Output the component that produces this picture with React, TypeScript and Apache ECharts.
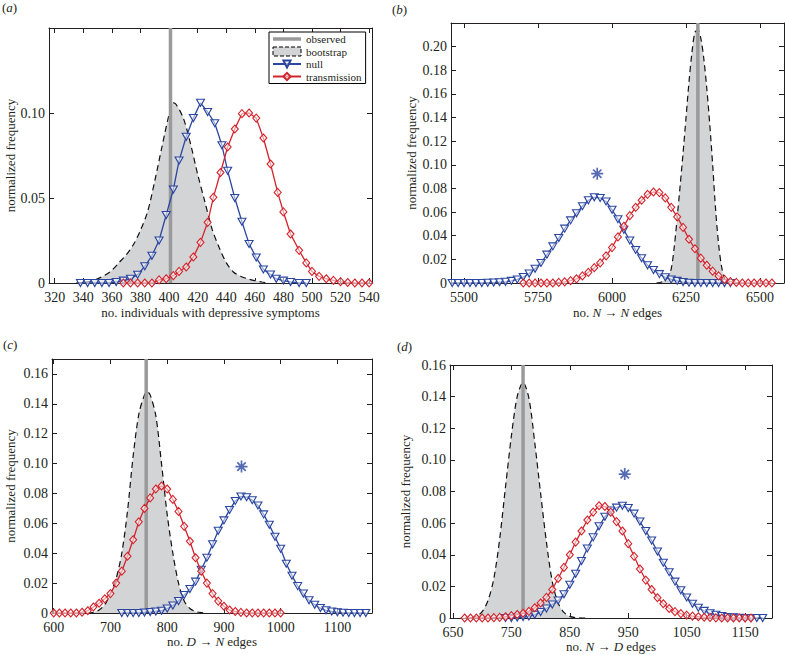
import React, { useEffect, useRef } from 'react';
import * as echarts from 'echarts';

const FONT = '"Liberation Serif", "Times New Roman", Times, serif';
const BLUE = '#2b46a0';
const RED = '#d3232c';
const GREY_FILL = '#d3d4d6';
const OBS = '#9a9a9a';
const INK = '#231f20';

// ---------- panel (a) ----------
const aTicksX = [320, 340, 360, 380, 400, 420, 440, 460, 480, 500, 520, 540];
const aTicksY = [0, 0.05, 0.1];
const aObserved = 401;
const aBootX = [335, 340, 345, 350, 355, 360, 365, 370, 375, 380, 385, 390, 395, 400, 403, 405, 410, 415, 420, 425, 430, 435, 440, 445, 450, 455, 460, 465, 470];
const aBootY = [0, 0.0003, 0.001, 0.0025, 0.0045, 0.0075, 0.012, 0.0165, 0.0225, 0.031, 0.042, 0.06, 0.08, 0.099, 0.106, 0.105, 0.097, 0.082, 0.064, 0.048, 0.032, 0.021, 0.012, 0.0065, 0.004, 0.0025, 0.0014, 0.0006, 0];
const aNullX = [338, 343, 348, 353, 358, 363, 368, 373, 378, 383, 388, 393, 398, 403, 407, 412, 417, 422, 427, 432, 437, 441, 446, 451, 456, 461, 466, 471, 475, 480, 485, 491, 496];
const aNullY = [0, 0, 0, 0, 0, 0.0006, 0.0014, 0.0025, 0.0049, 0.0098, 0.016, 0.025, 0.04, 0.055, 0.072, 0.086, 0.097, 0.106, 0.1006, 0.094, 0.081, 0.066, 0.05, 0.036, 0.023, 0.015, 0.008, 0.005, 0.0025, 0.0014, 0.0006, 0, 0];
const aTransX = [368, 373, 378, 383, 388, 393, 398, 403, 407, 412, 417, 422, 427, 431, 436, 441, 446, 451, 456, 461, 466, 471, 476, 480, 485, 491, 496, 500, 505, 510, 515, 520, 525, 530, 535, 540];
const aTransY = [0, 0, 0, 0, 0, 0.0018, 0.0025, 0.0043, 0.0068, 0.0094, 0.0153, 0.0239, 0.0357, 0.0504, 0.065, 0.08, 0.0906, 0.0996, 0.1, 0.097, 0.0853, 0.07, 0.0533, 0.0418, 0.0288, 0.0192, 0.0118, 0.0068, 0.0039, 0.0025, 0.0015, 0.0008, 0.0003, 0, 0, 0];

// ---------- panel (b) ----------
const bTicksX = [5500, 5750, 6000, 6250, 6500];
const bTicksY = [0, 0.02, 0.04, 0.06, 0.08, 0.1, 0.12, 0.14, 0.16, 0.18, 0.2];
const bObserved = 6290;
const bStar = [5950, 0.0925];
const bBootX = [6150, 6170, 6190, 6200, 6210, 6220, 6230, 6240, 6250, 6260, 6270, 6280, 6290, 6300, 6310, 6320, 6330, 6340, 6350, 6360, 6370, 6380, 6390, 6400];
const bBootY = [0, 0.001, 0.006, 0.012, 0.03, 0.055, 0.082, 0.11, 0.14, 0.17, 0.195, 0.212, 0.214, 0.207, 0.19, 0.165, 0.135, 0.1, 0.062, 0.033, 0.014, 0.004, 0.001, 0];
const bNullX = [5460, 5480, 5500, 5520, 5540, 5560, 5580, 5600, 5620, 5640, 5660, 5680, 5700, 5720, 5740, 5760, 5780, 5800, 5820, 5840, 5860, 5880, 5900, 5920, 5940, 5960, 5980, 6000, 6020, 6040, 6060, 6080, 6100, 6120, 6140, 6160, 6180, 6200, 6220, 6240, 6260, 6280, 6300, 6320, 6340, 6360, 6380, 6400];
const bNullY = [0, 0, 0, 0, 0, 0, 0.0002, 0.0004, 0.0007, 0.001, 0.0018, 0.003, 0.005, 0.008, 0.012, 0.017, 0.024, 0.031, 0.038, 0.046, 0.053, 0.059, 0.065, 0.07, 0.0725, 0.072, 0.069, 0.062, 0.054, 0.045, 0.036, 0.028, 0.021, 0.015, 0.011, 0.0075, 0.0048, 0.003, 0.0018, 0.0008, 0.0003, 0, 0, 0, 0, 0, 0, 0];
const bTransX = [5700, 5720, 5740, 5760, 5780, 5800, 5820, 5840, 5860, 5880, 5900, 5920, 5940, 5960, 5980, 6000, 6020, 6040, 6060, 6080, 6100, 6120, 6140, 6160, 6180, 6200, 6220, 6240, 6260, 6280, 6300, 6320, 6340, 6360, 6380, 6400, 6420, 6440, 6460, 6480, 6500, 6520, 6540];
const bTransY = [0, 0, 0, 0, 0, 0, 0.0005, 0.001, 0.002, 0.0035, 0.006, 0.009, 0.013, 0.017, 0.023, 0.03, 0.039, 0.048, 0.057, 0.064, 0.07, 0.075, 0.077, 0.0765, 0.072, 0.064, 0.056, 0.047, 0.037, 0.029, 0.021, 0.015, 0.01, 0.006, 0.003, 0.0012, 0.0005, 0, 0, 0, 0, 0, 0];

// ---------- panel (c) ----------
const cTicksX = [600, 700, 800, 900, 1000, 1100];
const cTicksY = [0, 0.02, 0.04, 0.06, 0.08, 0.1, 0.12, 0.14, 0.16];
const cObserved = 763;
const cStar = [931, 0.098];
const cBootX = [660, 670, 680, 690, 700, 710, 720, 730, 740, 750, 760, 765, 770, 780, 790, 800, 810, 820, 830, 840, 850, 860, 870];
const cBootY = [0, 0.0005, 0.002, 0.0055, 0.013, 0.023, 0.04, 0.068, 0.105, 0.133, 0.146, 0.148, 0.146, 0.132, 0.1, 0.066, 0.04, 0.02, 0.008, 0.003, 0.001, 0.0002, 0];
const cNullX = [720, 730, 740, 750, 760, 770, 780, 790, 800, 810, 820, 830, 840, 850, 860, 870, 880, 890, 900, 910, 920, 930, 940, 950, 960, 970, 980, 990, 1000, 1010, 1020, 1030, 1040, 1050, 1060, 1070, 1080, 1090, 1100, 1110, 1120, 1130, 1140, 1150];
const cNullY = [0, 0, 0, 0, 0.0003, 0.0006, 0.001, 0.0015, 0.003, 0.005, 0.008, 0.012, 0.016, 0.021, 0.029, 0.037, 0.046, 0.055, 0.062, 0.069, 0.075, 0.078, 0.0775, 0.0755, 0.072, 0.066, 0.059, 0.051, 0.043, 0.033, 0.025, 0.018, 0.013, 0.0085, 0.0055, 0.0033, 0.0018, 0.001, 0.0005, 0.0002, 0, 0, 0, 0];
const cTransX = [600, 610, 620, 630, 640, 650, 660, 670, 680, 690, 700, 710, 720, 730, 740, 750, 760, 770, 780, 790, 800, 810, 820, 830, 840, 850, 860, 870, 880, 890, 900, 910, 920, 930, 940, 950, 960, 970, 980, 990, 1000];
const cTransY = [0, 0, 0, 0, 0, 0.0005, 0.0015, 0.004, 0.0065, 0.0095, 0.013, 0.02, 0.028, 0.038, 0.049, 0.061, 0.07, 0.077, 0.083, 0.085, 0.083, 0.076, 0.068, 0.058, 0.048, 0.037, 0.028, 0.02, 0.013, 0.008, 0.0045, 0.002, 0.001, 0.0004, 0, 0, 0, 0, 0, 0, 0];

// ---------- panel (d) ----------
const dTicksX = [650, 750, 850, 950, 1050, 1150];
const dTicksY = [0, 0.02, 0.04, 0.06, 0.08, 0.1, 0.12, 0.14, 0.16];
const dObserved = 770;
const dStar = [944, 0.091];
const dBootX = [680, 690, 700, 710, 720, 730, 740, 750, 760, 770, 780, 790, 800, 810, 820, 830, 840, 850, 860, 870, 880];
const dBootY = [0, 0.001, 0.004, 0.011, 0.025, 0.05, 0.083, 0.115, 0.14, 0.149, 0.139, 0.111, 0.079, 0.048, 0.023, 0.0095, 0.0035, 0.001, 0.0002, 0, 0];
const dNullX = [740, 750, 760, 770, 780, 790, 800, 810, 820, 830, 840, 850, 860, 870, 880, 890, 900, 910, 920, 930, 940, 950, 960, 970, 980, 990, 1000, 1010, 1020, 1030, 1040, 1050, 1060, 1070, 1080, 1090, 1100, 1110, 1120, 1130, 1140, 1150, 1160, 1170, 1180];
const dNullY = [0, 0, 0.0003, 0.0006, 0.001, 0.002, 0.0038, 0.006, 0.0085, 0.011, 0.015, 0.021, 0.028, 0.036, 0.044, 0.051, 0.058, 0.064, 0.068, 0.0698, 0.071, 0.0695, 0.066, 0.061, 0.055, 0.049, 0.042, 0.035, 0.029, 0.023, 0.0175, 0.013, 0.009, 0.0065, 0.0045, 0.003, 0.002, 0.0012, 0.0007, 0.0004, 0.0002, 0, 0, 0, 0];
const dTransX = [670, 680, 690, 700, 710, 720, 730, 740, 750, 760, 770, 780, 790, 800, 810, 820, 830, 840, 850, 860, 870, 880, 890, 900, 910, 920, 930, 940, 950, 960, 970, 980, 990, 1000, 1010, 1020, 1030, 1040, 1050, 1060, 1070, 1080, 1090, 1100, 1110, 1120, 1130, 1140, 1150, 1160];
const dTransY = [0, 0, 0, 0, 0, 0.0002, 0.0004, 0.0008, 0.0015, 0.0022, 0.003, 0.0042, 0.0065, 0.0095, 0.013, 0.018, 0.025, 0.032, 0.04, 0.048, 0.055, 0.062, 0.067, 0.071, 0.0705, 0.067, 0.061, 0.055, 0.047, 0.039, 0.031, 0.024, 0.018, 0.0128, 0.009, 0.006, 0.004, 0.0028, 0.0018, 0.0012, 0.0008, 0.0005, 0.0003, 0.0001, 0, 0, 0, 0, 0, 0];

const ASTERISK = 'path://M0,8.6L20,8.6L20,11.4L0,11.4Z M8.6,0L11.4,0L11.4,20L8.6,20Z M4.01,1.99L18.01,15.99L15.99,18.01L1.99,4.01Z M15.99,1.99L18.01,4.01L4.01,18.01L1.99,15.99Z';

const zip = (xs: number[], ys: number[]) => xs.map((x, i) => [x, ys[i]]);
const yFmt = (v: number) => (v === 0 ? '0' : v.toFixed(2));
const xFmt = (v: number) => String(Math.round(v));

const TICK_FS = 14;
const richItalic = { i: { fontStyle: 'italic', fontFamily: FONT, fontSize: 13, color: INK } };

type Panel = {
  grid: { left: number; top: number; width: number; height: number };
  xMin: number; xMax: number; yMax: number;
  ticksX: number[]; ticksY: number[];
  xName: string; xGap: number; yGap: number; xMargin: number;
  observed: number;
  boot: [number[], number[]];
  nul: [number[], number[]];
  trans: [number[], number[]];
  star?: number[];
};

const panels: Panel[] = [
  {
    grid: { left: 49, top: 28, width: 323, height: 255 },
    xMin: 316, xMax: 542, yMax: 0.15, ticksX: aTicksX, ticksY: aTicksY,
    xName: 'no. individuals with depressive symptoms', xGap: 23, yGap: 32, xMargin: 7,
    observed: aObserved, boot: [aBootX, aBootY], nul: [aNullX, aNullY], trans: [aTransX, aTransY],
  },
  {
    grid: { left: 451, top: 23, width: 333, height: 260 },
    xMin: 5456, xMax: 6581, yMax: 0.22, ticksX: bTicksX, ticksY: bTicksY,
    xName: 'no. {i|N} → {i|N} edges', xGap: 23, yGap: 33, xMargin: 7,
    observed: bObserved, boot: [bBootX, bBootY], nul: [bNullX, bNullY], trans: [bTransX, bTransY], star: bStar,
  },
  {
    grid: { left: 52, top: 359, width: 320, height: 254 },
    xMin: 597, xMax: 1161, yMax: 0.17, ticksX: cTicksX, ticksY: cTicksY,
    xName: 'no. {i|D} → {i|N} edges', xGap: 22, yGap: 35, xMargin: 7,
    observed: cObserved, boot: [cBootX, cBootY], nul: [cNullX, cNullY], trans: [cTransX, cTransY], star: cStar,
  },
  {
    grid: { left: 450, top: 365, width: 322, height: 253 },
    xMin: 645, xMax: 1196, yMax: 0.16, ticksX: dTicksX, ticksY: dTicksY,
    xName: 'no. {i|N} → {i|D} edges', xGap: 22, yGap: 38, xMargin: 7,
    observed: dObserved, boot: [dBootX, dBootY], nul: [dNullX, dNullY], trans: [dTransX, dTransY], star: dStar,
  },
];

const panelLabels = [
  { t: 'a', left: 2, top: 1 },
  { t: 'b', left: 392, top: 3 },
  { t: 'c', left: 3, top: 338 },
  { t: 'd', left: 397, top: 340 },
];

function buildOption() {
  const grid: any[] = [];
  const xAxis: any[] = [];
  const yAxis: any[] = [];
  const series: any[] = [];
  const lineCol = { color: INK, width: 1 };
  panels.forEach((p, g) => {
    grid.push({ ...p.grid, containLabel: false, outerBoundsMode: 'none', show: false });
    xAxis.push({
      gridIndex: g, type: 'value', position: 'bottom', min: p.xMin, max: p.xMax,
      name: p.xName, nameLocation: 'middle', nameGap: p.xGap,
      nameTextStyle: { fontFamily: FONT, fontSize: 13, color: INK, rich: richItalic },
      axisLine: { show: true, onZero: false, lineStyle: lineCol },
      axisTick: { show: true, inside: true, length: 5, customValues: p.ticksX, lineStyle: lineCol },
      axisLabel: { show: true, customValues: p.ticksX, margin: p.xMargin, color: INK, fontFamily: FONT, fontSize: TICK_FS, lineHeight: TICK_FS, formatter: xFmt },
      splitLine: { show: false },
    });
    xAxis.push({
      gridIndex: g, type: 'value', position: 'top', min: p.xMin, max: p.xMax,
      axisLine: { show: true, onZero: false, lineStyle: lineCol },
      axisTick: { show: true, inside: true, length: 5, customValues: p.ticksX, lineStyle: lineCol },
      axisLabel: { show: false },
      splitLine: { show: false },
    });
    yAxis.push({
      gridIndex: g, type: 'value', position: 'left', min: 0, max: p.yMax,
      name: 'normalized frequency', nameLocation: 'middle', nameGap: p.yGap,
      nameTextStyle: { fontFamily: FONT, fontSize: 13, color: INK },
      axisLine: { show: true, onZero: false, lineStyle: lineCol },
      axisTick: { show: true, inside: true, length: 5, customValues: p.ticksY, lineStyle: lineCol },
      axisLabel: { show: true, customValues: p.ticksY, margin: 4, color: INK, fontFamily: FONT, fontSize: TICK_FS, lineHeight: TICK_FS, formatter: yFmt },
      splitLine: { show: false },
    });
    yAxis.push({
      gridIndex: g, type: 'value', position: 'right', min: 0, max: p.yMax,
      axisLine: { show: true, onZero: false, lineStyle: lineCol },
      axisTick: { show: true, inside: true, length: 5, customValues: p.ticksY, lineStyle: lineCol },
      axisLabel: { show: false },
      splitLine: { show: false },
    });
    const xi = g * 2;
    const yi = g * 2;
    series.push({
      name: 'bootstrap', type: 'line', xAxisIndex: xi, yAxisIndex: yi,
      data: zip(p.boot[0], p.boot[1]), smooth: 0.3, symbol: 'none',
      lineStyle: { color: '#111', width: 1.2, type: [6, 4] },
      areaStyle: { color: GREY_FILL, opacity: 1 },
      itemStyle: { color: GREY_FILL },
      z: 1,
    });
    series.push({
      name: 'observed', type: 'line', xAxisIndex: xi, yAxisIndex: yi,
      data: [[p.observed, 0], [p.observed, p.yMax]], symbol: 'none',
      lineStyle: { color: OBS, width: 3.5 }, itemStyle: { color: OBS },
      z: 2,
    });
    series.push({
      name: 'null', type: 'line', xAxisIndex: xi, yAxisIndex: yi,
      data: zip(p.nul[0], p.nul[1]), symbol: 'triangle', symbolRotate: 180, symbolSize: [8, 7],
      lineStyle: { color: BLUE, width: 1.3 },
      itemStyle: { color: 'rgba(255,255,255,0.55)', borderColor: BLUE, borderWidth: 1.1 },
      z: 3,
    });
    series.push({
      name: 'transmission', type: 'line', xAxisIndex: xi, yAxisIndex: yi,
      data: zip(p.trans[0], p.trans[1]), symbol: 'diamond', symbolSize: [7, 8],
      lineStyle: { color: RED, width: 1.3 },
      itemStyle: { color: 'rgba(255,255,255,0.55)', borderColor: RED, borderWidth: 1.1 },
      z: 4,
    });
    if (p.star) {
      series.push({
        name: 'significant', type: 'scatter', xAxisIndex: xi, yAxisIndex: yi,
        data: [p.star], symbol: ASTERISK, symbolSize: 12,
        itemStyle: { color: BLUE }, z: 5,
      });
    }
  });

  return {
    animation: false,
    backgroundColor: '#ffffff',
    textStyle: { fontFamily: FONT },
    grid, xAxis, yAxis, series,
    legend: {
      show: true,
      orient: 'vertical',
      left: 269, top: 32,
      padding: [1, 4, 1, 3],
      itemGap: 0.5,
      itemWidth: 28, itemHeight: 9,
      borderColor: '#000', borderWidth: 1, backgroundColor: '#fff',
      selectedMode: false,
      textStyle: { fontFamily: FONT, fontSize: 11, color: INK, lineHeight: 12 },
      data: [
        { name: 'observed', icon: 'path://M0,0L28,0L28,3.5L0,3.5Z', itemStyle: { color: OBS, borderWidth: 0 } },
        { name: 'bootstrap', icon: 'rect', itemStyle: { color: GREY_FILL, borderColor: '#000', borderWidth: 1, borderType: 'dashed' } },
        { name: 'null' },
        { name: 'transmission' },
      ],
    },
    graphic: panelLabels.map((l) => ({
      type: 'text', left: l.left, top: l.top,
      style: {
        text: '({i|' + l.t + '})',
        fontFamily: FONT, fontSize: 13, fill: INK,
        rich: { i: { fontStyle: 'italic', fontFamily: FONT, fontSize: 13, fill: INK, color: INK } },
      },
    })),
  };
}

export default function App() {
  const ref = useRef<HTMLDivElement>(null);
  useEffect(() => {
    if (!ref.current) return;
    const chart = echarts.init(ref.current, undefined, { renderer: 'svg' });
    chart.setOption(buildOption() as any);
    return () => chart.dispose();
  }, []);
  return (
    <div
      ref={ref}
      style={{ position: 'fixed', left: 0, top: 0, width: 785, height: 655, background: '#fff' }}
    />
  );
}
